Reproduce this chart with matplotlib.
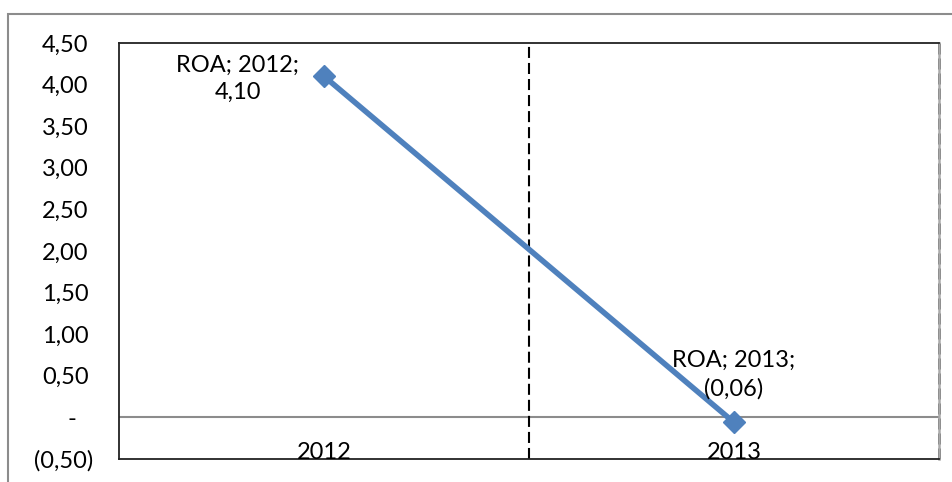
import matplotlib.pyplot as plt
from matplotlib.patches import Rectangle
from matplotlib.transforms import ScaledTranslation

years = ["2012", "2013"]
roa = [4.10, -0.06]
series_name = "ROA"
yticks = [-0.5, 0.0, 0.5, 1.0, 1.5, 2.0, 2.5, 3.0, 3.5, 4.0, 4.5]


def acct(v):
    # accounting style: comma decimals, dash for zero, brackets for negatives
    if abs(v) < 1e-9:
        return "-"
    s = f"{abs(v):.2f}".replace(".", ",")
    return f"({s})" if v < 0 else s


plt.rcParams["font.family"] = ["Lato", "DejaVu Sans"]
FS = 17

fig = plt.figure(figsize=(9.52, 4.82), dpi=100)
fig.patches.append(Rectangle((8 / 952, -0.1), 2, 1.1 - 14 / 482,
                             transform=fig.transFigure, fill=False,
                             edgecolor="#8c8c8c", linewidth=1.5))

ax = fig.add_axes([119 / 952, 1 - 459 / 482, 820 / 952, 416 / 482])
x = list(range(len(years)))
ax.plot(x, roa, color="#4f81bd", linewidth=4, marker="D", markersize=11.5,
        solid_capstyle="round", zorder=3)

ax.set_xlim(-0.5, len(years) - 0.5)
ax.set_ylim(-0.5, 4.5)
ax.set_yticks(yticks)
ax.set_yticklabels([acct(v) for v in yticks], fontsize=FS)
ax.tick_params(axis="y", length=0, pad=22)
for v, lbl in zip(yticks, ax.get_yticklabels()):
    # positive values leave room for a bracket, zero dash sits under the units
    if v < 0:
        dx = 5 / 100
    elif v == 0:
        dx = -12 / 100
    else:
        dx = 0
    lbl.set_transform(lbl.get_transform() + ScaledTranslation(dx, 0, fig.dpi_scale_trans))
ax.set_xticks([])

ax.axhline(0, color="#8c8c8c", linewidth=1.5, zorder=1)
ax.axvline(0.5, color="black", linewidth=1.5, linestyle=(0, (5.3, 2.4)), zorder=1)

for sp in ["left", "top", "bottom"]:
    ax.spines[sp].set_color("#222222")
    ax.spines[sp].set_linewidth(1.3)
ax.spines["right"].set_color("#aaaaaa")
ax.spines["right"].set_linewidth(1.8)
ax.axvline(len(years) - 0.5, color="black", linewidth=1.8,
           linestyle=(0, (4.4, 1.6)), zorder=2, clip_on=False)

for xi, yr in zip(x, years):
    ax.text(xi, -0.42, yr, ha="center", va="center", fontsize=FS)

ax.text(x[0] - 0.21, roa[0] - 0.03, f"{series_name}; {years[0]};\n{acct(roa[0])}",
        ha="center", va="center", fontsize=FS, linespacing=1.4)
ax.text(x[1] - 0.002, roa[1] + 0.57, f"{series_name}; {years[1]};\n{acct(roa[1])}",
        ha="center", va="center", fontsize=FS, linespacing=1.4)

fig.savefig("out.png", dpi=100)
